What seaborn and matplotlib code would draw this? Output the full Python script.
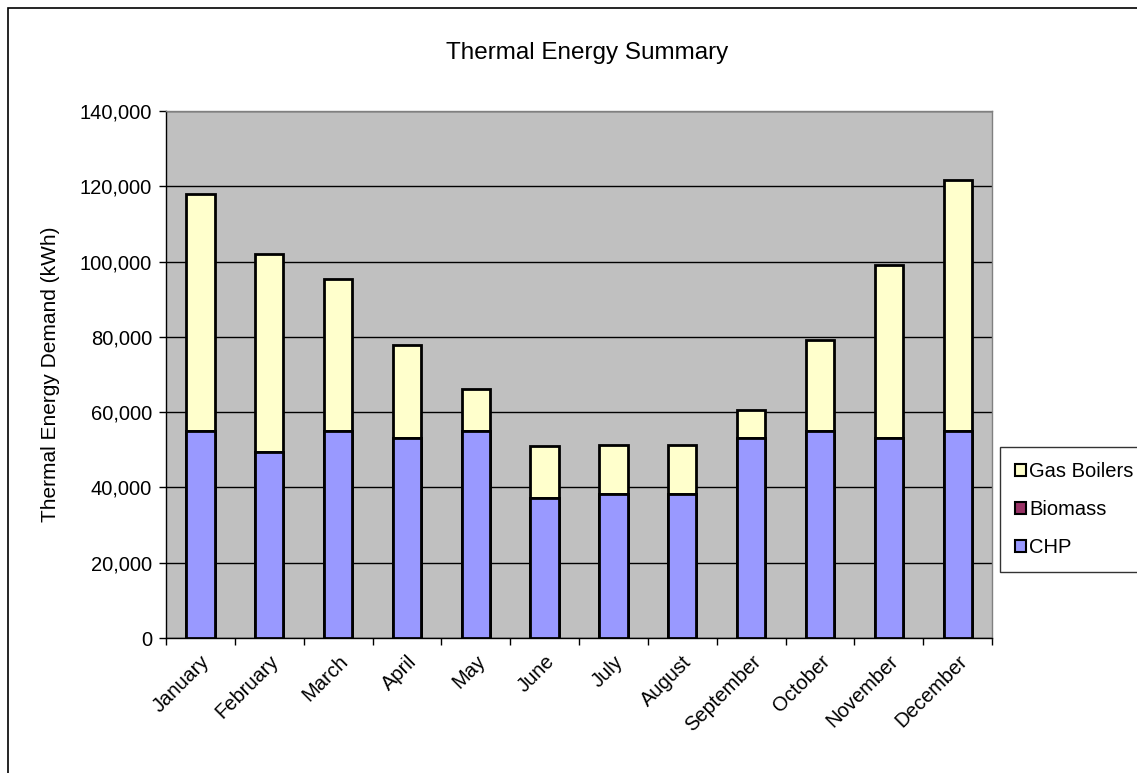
import matplotlib
matplotlib.use('Agg')
import matplotlib.pyplot as plt
import matplotlib.ticker as mticker
from matplotlib.patches import Patch, Rectangle
import numpy as np
import pandas as pd
import seaborn as sns

months = ['January', 'February', 'March', 'April', 'May', 'June', 'July',
          'August', 'September', 'October', 'November', 'December']
chp = [55000, 49400, 55000, 53100, 55000, 37200, 38300, 38300, 53100, 55000, 53100, 55000]
biomass = [0, 0, 0, 0, 0, 0, 0, 0, 0, 0, 0, 0]
gas_boilers = [63000, 52600, 40400, 24700, 11200, 13800, 13000, 13000, 7500, 24200, 46000, 66700]

df = pd.DataFrame({'month': months, 'CHP': chp, 'Biomass': biomass, 'Gas Boilers': gas_boilers})
df['chp_bio'] = df['CHP'] + df['Biomass']
df['total'] = df['chp_bio'] + df['Gas Boilers']

sns.set_style('white')
plt.rcParams['font.family'] = ['Liberation Sans', 'DejaVu Sans']
plt.rcParams['text.color'] = 'black'
plt.rcParams['axes.labelcolor'] = 'black'
plt.rcParams['xtick.color'] = 'black'
plt.rcParams['ytick.color'] = 'black'

fig = plt.figure(figsize=(11.37, 7.73), dpi=100)
ax = fig.add_axes([0.146, 0.1746, 0.7265, 0.6818])
ax.set_facecolor('#c0c0c0')

c_gas = '#ffffcc'
c_bio = '#993366'
c_chp = '#9999ff'

# stacked by overdrawing cumulative totals
sns.barplot(x='month', y='total', data=df, color=c_gas, saturation=1, width=0.41,
            edgecolor='black', linewidth=2, ax=ax, zorder=3)
sns.barplot(x='month', y='chp_bio', data=df, color=c_bio, saturation=1, width=0.41,
            edgecolor='black', linewidth=2, ax=ax, zorder=3)
sns.barplot(x='month', y='CHP', data=df, color=c_chp, saturation=1, width=0.41,
            edgecolor='black', linewidth=2, ax=ax, zorder=3)

ax.set_xlim(-0.5, 11.5)
ax.set_ylim(0, 140000)
ax.yaxis.set_major_locator(mticker.MultipleLocator(20000))
ax.yaxis.set_major_formatter(mticker.FuncFormatter(lambda v, p: f'{int(v):,}'))
ax.grid(axis='y', color='black', linewidth=1, zorder=0)
ax.set_axisbelow(True)

for s in ['top', 'right']:
    ax.spines[s].set_color('#808080')
    ax.spines[s].set_linewidth(1)
for s in ['left', 'bottom']:
    ax.spines[s].set_color('black')
    ax.spines[s].set_linewidth(1)

ax.tick_params(axis='y', direction='out', length=5, width=1, left=True,
               labelsize=14.5, pad=5)
ax.set_xticks(np.arange(12))
ax.set_xticklabels(months, rotation=45, ha='right', rotation_mode='anchor', fontsize=14.5)
ax.tick_params(axis='x', which='major', length=0, pad=10)
ax.set_xticks(np.arange(-0.5, 12, 1), minor=True)
ax.tick_params(axis='x', which='minor', direction='out', length=5, width=1, bottom=True)

ax.set_xlabel('')
ax.set_ylabel('Thermal Energy Demand (kWh)', fontsize=15, labelpad=14)

fig.text(0.516, 0.931, 'Thermal Energy Summary', ha='center', va='center', fontsize=17.5)

handles = [Patch(facecolor=c_gas, edgecolor='black', linewidth=1.5, label='Gas Boilers'),
           Patch(facecolor=c_bio, edgecolor='black', linewidth=1.5, label='Biomass'),
           Patch(facecolor=c_chp, edgecolor='black', linewidth=1.5, label='CHP')]
leg = fig.legend(handles=handles, loc='upper left', bbox_to_anchor=(0.8795, 0.4217),
                 fontsize=14.5, frameon=True, fancybox=False, handlelength=0.55, handleheight=0.55,
                 handletextpad=0.15, labelspacing=0.95, borderpad=0.75, borderaxespad=0)
leg.get_frame().set_edgecolor('black')
leg.get_frame().set_linewidth(1)

fig.patches.append(Rectangle((8 / 1137, -0.1), 1.2, 1 - 8 / 773 + 0.1, transform=fig.transFigure,
                             fill=False, edgecolor='black', linewidth=1.2))

fig.savefig('out.png', dpi=100)
